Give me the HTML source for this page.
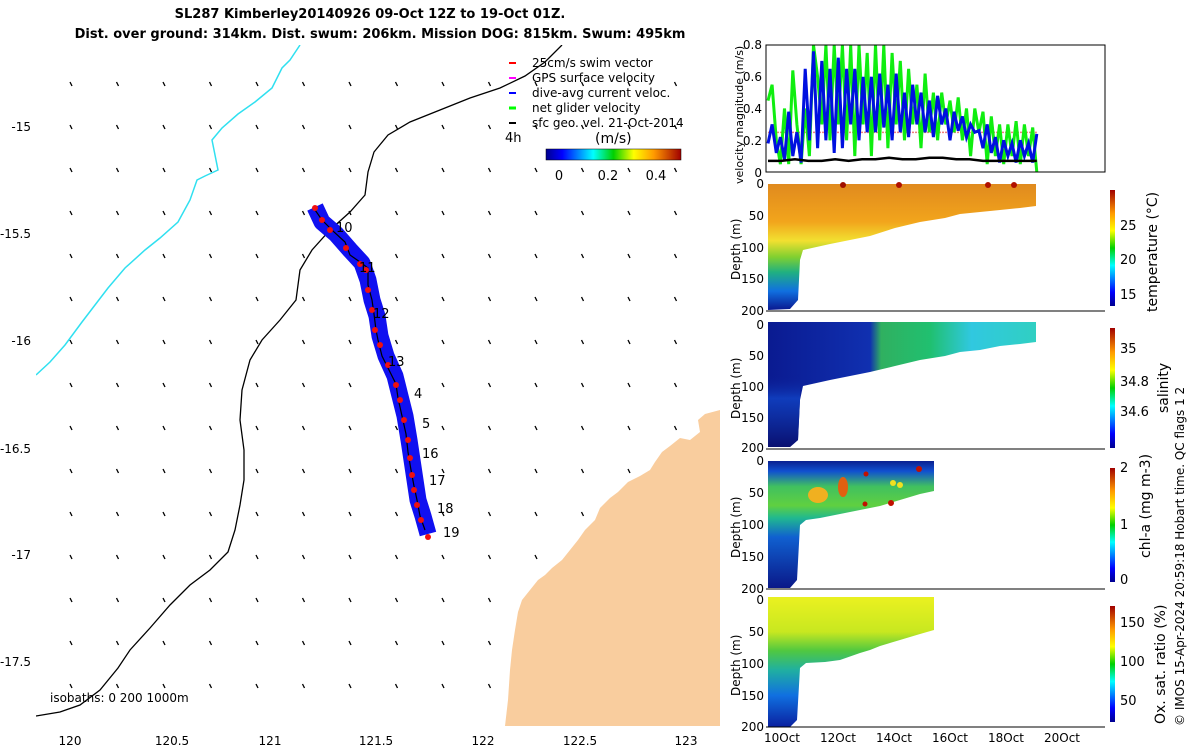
<!DOCTYPE html>
<html><head><meta charset="utf-8"><style>
html,body{margin:0;padding:0;background:#fff;}
svg{display:block;font-family:"DejaVu Sans","Liberation Sans",sans-serif;}
</style></head><body>
<svg id="s" width="1200" height="750" viewBox="0 0 1200 750" xmlns="http://www.w3.org/2000/svg">
<defs>
<linearGradient id="jetH" x1="0" x2="1" y1="0" y2="0">
<stop offset="0" stop-color="#00008f"/><stop offset="0.12" stop-color="#0000ff"/><stop offset="0.35" stop-color="#00ffff"/><stop offset="0.5" stop-color="#00d000"/><stop offset="0.65" stop-color="#ffff00"/><stop offset="0.8" stop-color="#ff9900"/><stop offset="1" stop-color="#a00000"/></linearGradient>
<linearGradient id="jetV" x1="0" x2="0" y1="1" y2="0">
<stop offset="0" stop-color="#00008f"/><stop offset="0.12" stop-color="#0000ff"/><stop offset="0.35" stop-color="#00ffff"/><stop offset="0.5" stop-color="#00d000"/><stop offset="0.65" stop-color="#ffff00"/><stop offset="0.8" stop-color="#ff9900"/><stop offset="1" stop-color="#a00000"/></linearGradient>
<linearGradient id="tempG" gradientUnits="userSpaceOnUse" x1="0" y1="184" x2="0" y2="310">
<stop offset="0" stop-color="#e08a1e"/><stop offset="0.3" stop-color="#f2a51c"/><stop offset="0.45" stop-color="#f2e030"/><stop offset="0.58" stop-color="#80d030"/><stop offset="0.7" stop-color="#20b080"/><stop offset="0.85" stop-color="#1070e0"/><stop offset="1" stop-color="#0a1890"/></linearGradient>
<linearGradient id="salG" gradientUnits="userSpaceOnUse" x1="766" y1="0" x2="1040" y2="0">
<stop offset="0" stop-color="#0a1a90"/><stop offset="0.38" stop-color="#1030b0"/><stop offset="0.42" stop-color="#30b060"/><stop offset="0.6" stop-color="#20c070"/><stop offset="0.75" stop-color="#30c8e0"/><stop offset="1" stop-color="#30d0c0"/></linearGradient>
<linearGradient id="salD" gradientUnits="userSpaceOnUse" x1="0" y1="325" x2="0" y2="447">
<stop offset="0" stop-color="#0a1a90" stop-opacity="0"/><stop offset="0.4" stop-color="#0a1a90" stop-opacity="0"/><stop offset="0.6" stop-color="#1040c0" stop-opacity="0.9"/><stop offset="1" stop-color="#0a1070"/></linearGradient>
<linearGradient id="chlG" gradientUnits="userSpaceOnUse" x1="0" y1="461" x2="0" y2="588">
<stop offset="0" stop-color="#0a2090"/><stop offset="0.08" stop-color="#1050d0"/><stop offset="0.2" stop-color="#40c060"/><stop offset="0.35" stop-color="#60d040"/><stop offset="0.45" stop-color="#20b890"/><stop offset="0.6" stop-color="#1060d0"/><stop offset="1" stop-color="#0a1888"/></linearGradient>
<linearGradient id="oxG" gradientUnits="userSpaceOnUse" x1="0" y1="600" x2="0" y2="727">
<stop offset="0" stop-color="#e8f020"/><stop offset="0.25" stop-color="#c8e820"/><stop offset="0.4" stop-color="#50c840"/><stop offset="0.55" stop-color="#20b0a0"/><stop offset="0.75" stop-color="#1070e0"/><stop offset="1" stop-color="#0a20a0"/></linearGradient>
<clipPath id="velclip"><rect x="766" y="45" width="339" height="127"/></clipPath>
</defs>

<text x="370" y="18" text-anchor="middle" font-size="13" font-weight="bold">SL287 Kimberley20140926 09-Oct 12Z to 19-Oct 01Z.</text>
<text x="380" y="38" text-anchor="middle" font-size="13" font-weight="bold">Dist. over ground: 314km. Dist. swum: 206km. Mission DOG: 815km. Swum: 495km</text>

<g>
<clipPath id="mapclip"><rect x="36" y="45" width="684" height="681"/></clipPath>
<g clip-path="url(#mapclip)">
<path fill="#f9cd9e" d="M720,410 L705,414 L698,420 L700,432 L690,440 L680,438 L670,446 L662,452 L655,462 L650,470 L640,476 L628,482 L618,492 L610,498 L600,508 L595,520 L585,530 L578,540 L570,550 L562,560 L552,568 L545,575 L538,580 L530,590 L522,600 L518,612 L515,630 L512,650 L510,670 L508,700 L505,726 L720,726 Z"/>
<polyline fill="none" stroke="#30e0f0" stroke-width="1.5" points="300,45 290,60 282,68 272,88 255,102 238,114 222,128 212,140 218,170 205,176 197,180 190,200 178,222 160,238 145,250 125,268 108,288 95,305 82,322 65,345 50,362 36,375"/>
<polyline fill="none" stroke="#000" stroke-width="1.3" points="562,45 545,62 525,76 500,88 470,98 440,110 410,122 388,135 374,152 368,172 365,195 350,212 330,230 312,250 300,270 296,300 280,320 262,340 250,360 242,390 240,420 244,450 244,480 240,505 235,530 228,552 210,570 190,585 170,605 150,628 130,650 118,668 100,690 80,705 60,712 36,716"/>
<g id="vecs"></g>
<polyline fill="none" stroke="#1010f0" stroke-width="17" stroke-linejoin="round" points="315,207 322,222 336,234 350,250 362,263 368,280 372,300 377,316 380,336 386,356 395,376 400,396 405,416 409,440 412,460 415,480 418,500 423,516 428,534"/>
<polyline fill="none" stroke="#000" stroke-width="1.2" points="313,207 322,220 334,232 345,242 350,255 360,262 368,268 368,285 372,300 374,314 376,330 378,340 382,356 390,372 396,384 398,398 402,416 406,434 408,452 411,470 414,486 417,500 420,516 425,530"/>
<g id="reddots"></g>
<g font-size="13">
<text x="336" y="232">10</text><text x="359" y="272">11</text><text x="373" y="318">12</text><text x="388" y="366">13</text><text x="414" y="398">4</text><text x="422" y="428">5</text><text x="422" y="458">16</text><text x="429" y="485">17</text><text x="437" y="513">18</text><text x="443" y="537">19</text>
</g>
</g>
<g font-size="12" text-anchor="end">
<text x="31" y="131">-15</text><text x="31" y="238">-15.5</text><text x="31" y="345">-16</text><text x="31" y="453">-16.5</text><text x="31" y="559">-17</text><text x="31" y="666">-17.5</text>
</g>
<g font-size="12" text-anchor="middle">
<text x="70" y="745">120</text><text x="172" y="745">120.5</text><text x="270" y="745">121</text><text x="376" y="745">121.5</text><text x="483" y="745">122</text><text x="580" y="745">122.5</text><text x="686" y="745">123</text>
</g>
<text x="50" y="702" font-size="12">isobaths: 0  200  1000m</text>
<g font-size="12">
<line x1="509" y1="63" x2="516" y2="63" stroke="#f00" stroke-width="2"/><text x="532" y="67">25cm/s swim vector</text>
<line x1="509" y1="78" x2="516" y2="78" stroke="#f0f" stroke-width="2"/><text x="532" y="82">GPS surface velocity</text>
<line x1="509" y1="93" x2="516" y2="93" stroke="#00f" stroke-width="2"/><text x="532" y="97">dive-avg current veloc.</text>
<line x1="509" y1="108" x2="516" y2="108" stroke="#0f0" stroke-width="3"/><text x="532" y="112">net glider velocity</text>
<line x1="509" y1="123" x2="516" y2="123" stroke="#000" stroke-width="2"/><text x="532" y="127">sfc geo. vel. 21-Oct-2014</text>
<text x="505" y="142" font-size="13">4h</text>
<text x="595" y="143" font-size="14">(m/s)</text>
<rect x="546" y="149" width="135" height="11" fill="url(#jetH)" stroke="#000" stroke-width="0.5"/>
<text x="559" y="180" text-anchor="middle" font-size="13">0</text><text x="608" y="180" text-anchor="middle" font-size="13">0.2</text><text x="656" y="180" text-anchor="middle" font-size="13">0.4</text>
</g>
</g>

<g>
<g id="velmarks" clip-path="url(#velclip)"></g>
<rect x="766" y="45" width="339" height="127" fill="none" stroke="#000" stroke-width="1"/>
<g font-size="12" text-anchor="end">
<text x="762" y="49">0.8</text><text x="762" y="81">0.6</text><text x="762" y="113">0.4</text><text x="762" y="145">0.2</text><text x="762" y="177">0</text>
</g>
<text transform="translate(743,184) rotate(-90)" font-size="11">velocity magnitude (m/s)</text>
</g>

<g>
<path fill="url(#tempG)" d="M768,184 L1036,184 L1036,206 L1020,208 L1000,210 L980,212 L960,214 L945,218 L920,222 L895,228 L870,236 L850,240 L830,244 L812,248 L803,250 L800,260 L798,300 L790,309 L768,310 Z"/>
<circle cx="843" cy="185" r="3" fill="#a01000"/><circle cx="899" cy="185" r="3" fill="#b01000"/><circle cx="988" cy="185" r="3" fill="#b01000"/><circle cx="1014" cy="185" r="3" fill="#b01000"/>
</g>
<g>
<path fill="url(#salG)" d="M768,322 L1036,322 L1036,342 L1020,344 L1000,346 L980,350 L960,352 L945,356 L920,360 L895,366 L870,372 L850,376 L830,380 L812,384 L803,386 L800,400 L798,440 L790,447 L768,447 Z"/>
<path fill="url(#salD)" d="M768,322 L800,322 L800,400 L798,440 L790,447 L768,447 Z"/>
</g>
<g>
<path fill="url(#chlG)" d="M768,461 L934,461 L934,491 L920,494 L900,500 L880,506 L860,510 L840,514 L820,518 L806,520 L800,525 L797,580 L790,588 L768,588 Z"/>
<ellipse cx="818" cy="495" rx="10" ry="8" fill="#f0b020"/><ellipse cx="843" cy="487" rx="5" ry="10" fill="#e06010"/><circle cx="866" cy="474" r="2.5" fill="#c01000"/><circle cx="865" cy="504" r="2.5" fill="#c01000"/><circle cx="891" cy="503" r="3" fill="#c01000"/><circle cx="919" cy="469" r="3" fill="#c01000"/><circle cx="893" cy="483" r="3" fill="#f0e020"/><circle cx="900" cy="485" r="3" fill="#f0e020"/>
</g>
<g>
<path fill="url(#oxG)" d="M768,597 L934,597 L934,630 L920,634 L900,640 L880,646 L870,650 L860,653 L840,660 L825,662 L806,663 L800,668 L797,720 L790,727 L768,727 Z"/>
</g>
<g stroke="#000" stroke-width="1">
<line x1="766" y1="311" x2="1105" y2="311"/><line x1="766" y1="449" x2="1105" y2="449"/><line x1="766" y1="589" x2="1105" y2="589"/><line x1="766" y1="727" x2="1105" y2="727"/>
</g>
<g font-size="12" text-anchor="end">
<text x="764" y="188">0</text><text x="764" y="220">50</text><text x="764" y="252">100</text><text x="764" y="283">150</text><text x="764" y="315">200</text>
<text x="764" y="329">0</text><text x="764" y="360">50</text><text x="764" y="391">100</text><text x="764" y="422">150</text><text x="764" y="452">200</text>
<text x="764" y="465">0</text><text x="764" y="497">50</text><text x="764" y="529">100</text><text x="764" y="561">150</text><text x="764" y="593">200</text>
<text x="764" y="604">0</text><text x="764" y="636">50</text><text x="764" y="668">100</text><text x="764" y="700">150</text><text x="764" y="731">200</text>
</g>
<g font-size="12">
<text transform="translate(740,280) rotate(-90)">Depth (m)</text>
<text transform="translate(740,419) rotate(-90)">Depth (m)</text>
<text transform="translate(740,558) rotate(-90)">Depth (m)</text>
<text transform="translate(740,696) rotate(-90)">Depth (m)</text>
</g>
<g font-size="12" text-anchor="middle">
<text x="782" y="742">10Oct</text><text x="838" y="742">12Oct</text><text x="894" y="742">14Oct</text><text x="950" y="742">16Oct</text><text x="1006" y="742">18Oct</text><text x="1062" y="742">20Oct</text>
</g>
<g>
<rect x="1110" y="190" width="5" height="116" fill="url(#jetV)"/>
<rect x="1110" y="328" width="5" height="120" fill="url(#jetV)"/>
<rect x="1110" y="468" width="5" height="114" fill="url(#jetV)"/>
<rect x="1110" y="606" width="5" height="116" fill="url(#jetV)"/>
<g font-size="13">
<text x="1120" y="230">25</text><text x="1120" y="264">20</text><text x="1120" y="299">15</text>
<text x="1120" y="353">35</text><text x="1120" y="386">34.8</text><text x="1120" y="416">34.6</text>
<text x="1120" y="472">2</text><text x="1120" y="529">1</text><text x="1120" y="584">0</text>
<text x="1120" y="627">150</text><text x="1120" y="666">100</text><text x="1120" y="705">50</text>
</g>
<g font-size="14">
<text transform="translate(1157,312) rotate(-90)">temperature (°C)</text>
<text transform="translate(1168,413) rotate(-90)">salinity</text>
<text transform="translate(1150,558) rotate(-90)">chl-a (mg m-3)</text>
<text transform="translate(1165,724) rotate(-90)">Ox. sat. ratio (%)</text>
</g>
<text transform="translate(1184,726) rotate(-90)" font-size="12">© IMOS 15-Apr-2024 20:59:18 Hobart time. QC flags 1  2</text>
</g>
</svg>
<script>
const greenVel=[0.45,0.55,0.2,0.05,0.4,0.05,0.64,0.3,0.05,0.4,0.1,0.8,0.6,0.3,0.8,0.2,0.8,0.3,0.8,0.2,0.8,0.1,0.8,0.3,0.75,0.1,0.8,0.2,0.8,0.15,0.75,0.3,0.7,0.2,0.65,0.3,0.55,0.15,0.62,0.25,0.5,0.2,0.5,0.3,0.45,0.25,0.47,0.2,0.4,0.1,0.4,0.25,0.38,0.05,0.35,0.1,0.3,0.05,0.3,0.1,0.32,0.05,0.3,0.1,0.28,0.0];
const blueVel=[0.18,0.3,0.12,0.22,0.08,0.38,0.1,0.25,0.06,0.65,0.2,0.76,0.15,0.7,0.2,0.65,0.12,0.72,0.15,0.65,0.3,0.65,0.2,0.6,0.25,0.6,0.25,0.62,0.28,0.55,0.2,0.62,0.25,0.5,0.22,0.55,0.3,0.5,0.25,0.45,0.22,0.48,0.3,0.4,0.2,0.38,0.26,0.35,0.22,0.3,0.25,0.26,0.15,0.3,0.12,0.22,0.06,0.2,0.1,0.18,0.06,0.2,0.1,0.18,0.06,0.24];
const blackVel=[0.07,0.07,0.08,0.07,0.07,0.08,0.07,0.08,0.08,0.09,0.08,0.08,0.09,0.09,0.08,0.08,0.07,0.07,0.07,0.07,0.07];
const tStart=9.5, tEnd=19.1;
const NS='http://www.w3.org/2000/svg';
function xT(d){return 782+(d-10)*28;}
function yV(v){return 172-v*(127/0.8);}
function line(arr,col,w){
  const n=arr.length;
  const pts=arr.map((v,i)=>xT(tStart+(tEnd-tStart)*i/(n-1)).toFixed(1)+','+yV(v).toFixed(1)).join(' ');
  const p=document.createElementNS(NS,'polyline');
  p.setAttribute('points',pts);p.setAttribute('fill','none');p.setAttribute('stroke',col);p.setAttribute('stroke-width',w);
  return p;
}
const vm=document.getElementById('velmarks');
const ref=document.createElementNS(NS,'line');
ref.setAttribute('x1',xT(tStart));ref.setAttribute('x2',xT(tEnd));ref.setAttribute('y1',yV(0.25));ref.setAttribute('y2',yV(0.25));
ref.setAttribute('stroke','#f08080');ref.setAttribute('stroke-width','1.5');ref.setAttribute('stroke-dasharray','2,1');


vm.appendChild(ref);
const g=line(greenVel,'#10ee10',3);


vm.appendChild(g);
const b=line(blueVel,'#0010e0',3);


vm.appendChild(b);
const k=line(blackVel,'#000',2.5);


vm.appendChild(k);
const vg=document.getElementById('vecs');
for(let r=0;r<16;r++){for(let c=0;c<15;c++){
  const x=70+c*46.5, y=82+r*43;
  if(x>500 && y>600-(x-520)*0.9) continue;
  const a=document.createElementNS(NS,'line');
  a.setAttribute('x1',x);a.setAttribute('y1',y);a.setAttribute('x2',x+2);a.setAttribute('y2',y+4);
  a.setAttribute('stroke','#000');a.setAttribute('stroke-width','1.3');
  
  
  vg.appendChild(a);
}}
const track=[[315,208],[322,220],[330,230],[346,248],[360,264],[366,270],[368,290],[372,310],[375,330],[380,345],[388,365],[396,385],[400,400],[404,420],[408,440],[410,458],[412,475],[414,490],[417,505],[421,520],[428,537]];
const rd=document.getElementById('reddots');
track.forEach(p=>{
  const c=document.createElementNS(NS,'circle');
  c.setAttribute('cx',p[0]);c.setAttribute('cy',p[1]);c.setAttribute('r','3');c.setAttribute('fill','#f01010');
  
  
  rd.appendChild(c);
});
</script>
</body></html>
